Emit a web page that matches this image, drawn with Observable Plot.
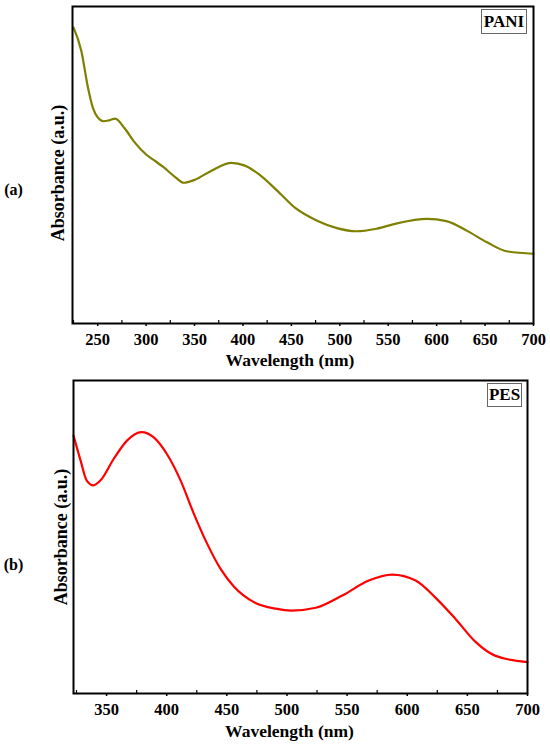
<!DOCTYPE html>
<html>
<head>
<meta charset="utf-8">
<script src="https://cdn.jsdelivr.net/npm/d3@7"></script>
<script src="https://cdn.jsdelivr.net/npm/@observablehq/plot@0.6"></script>
<style>
  html, body { margin: 0; padding: 0; background: #fff; }
  #wrap { position: relative; width: 550px; height: 744px; font-family: "Liberation Serif", "DejaVu Serif", serif; }
  #wrap svg { display: block; }
  .legend { position: absolute; border: 1px solid #666; background: #fff; font-weight: bold; font-size: 17px; color: #000; text-align: center; box-sizing: border-box; }
</style>
</head>
<body>
<div id="wrap"></div>
<script>
// Panel (a): PANI
const paniWavelength = [225, 233, 240, 245, 250, 256, 262, 268, 278, 288, 300, 310, 318, 330, 339, 350, 368, 388, 402, 416, 435, 455, 476, 497, 517, 538, 559, 590, 610, 631, 652, 672, 700];
const paniAbsorbance = [0.934, 0.861, 0.744, 0.681, 0.650, 0.638, 0.641, 0.646, 0.615, 0.572, 0.533, 0.511, 0.493, 0.462, 0.444, 0.453, 0.483, 0.507, 0.498, 0.472, 0.420, 0.362, 0.325, 0.301, 0.291, 0.299, 0.316, 0.330, 0.323, 0.293, 0.256, 0.228, 0.220];
const paniTicks = [250, 300, 350, 400, 450, 500, 550, 600, 650, 700];
const paniMinor = [225, 275, 325, 375, 425, 475, 525, 575, 625, 675];

// Panel (b): PES
const pesWavelength = [322.5, 328.4, 333.4, 339, 345, 356, 367, 379, 389, 400, 411.5, 422.6, 433.7, 444.8, 455.8, 472.5, 490.5, 504, 524, 546, 568, 587.5, 607, 623, 640, 657, 673, 700];
const pesAbsorbance = [0.824, 0.744, 0.681, 0.665, 0.681, 0.750, 0.808, 0.835, 0.819, 0.766, 0.681, 0.574, 0.478, 0.398, 0.342, 0.292, 0.271, 0.265, 0.274, 0.313, 0.361, 0.380, 0.361, 0.308, 0.239, 0.164, 0.121, 0.100];
const pesTicks = [350, 400, 450, 500, 550, 600, 650, 700];
const pesMinor = [325, 375, 425, 475, 525, 575, 625, 675];

const font = "Liberation Serif";

function panel(o) {
  const data = o.wl.map((w, i) => ({w, a: o.ab[i]}));
  return Plot.plot({
    width: 550,
    height: o.height,
    marginTop: o.marginTop, marginBottom: o.marginBottom, marginLeft: o.marginLeft, marginRight: o.marginRight,
    style: {fontFamily: font, background: "#fff", color: "#000"},
    x: {domain: o.xDomain},
    y: {domain: [0, 1]},
    marks: [
      Plot.line(data, {x: "w", y: "a", stroke: o.color, strokeWidth: 2.2, curve: "monotone-x"}),
      Plot.frame({stroke: "#000", strokeWidth: 2}),
      Plot.axisX({ticks: o.ticks, tickSize: 3, tickPadding: o.tickPadding, fontSize: 16.5, fontWeight: "bold", label: null, strokeWidth: 1.5}),
      Plot.axisX({ticks: o.minor.filter(d => d > o.xDomain[0]), tickSize: -3, tickFormat: () => "", label: null, strokeWidth: 1.2}),
      Plot.axisY({ticks: [], label: null}),
      Plot.text(["Wavelength (nm)"], {frameAnchor: "bottom", lineAnchor: "middle", dx: o.xLabelDx, dy: o.xLabelDy, fontSize: 17.5, fontWeight: "bold", fill: "#000"}),
      Plot.text(["Absorbance (a.u.)"], {frameAnchor: "left", textAnchor: "middle", lineAnchor: "middle", dx: o.yLabelDx, dy: o.yLabelDy, rotate: -90, fontSize: 18, fontWeight: "bold", fill: "#000"}),
      Plot.text([o.tag], {frameAnchor: "left", textAnchor: "middle", lineAnchor: "middle", dx: 13 - o.marginLeft, dy: o.tagDy, fontSize: 16, fontWeight: "bold", fill: "#000"})
    ]
  });
}

const wrap = document.getElementById("wrap");

wrap.appendChild(panel({
  wl: paniWavelength, ab: paniAbsorbance, ticks: paniTicks, minor: paniMinor,
  xDomain: [224, 700], color: "#7f7f00", tag: "(a)",
  height: 370, marginTop: 6, marginBottom: 47, marginLeft: 72, marginRight: 17,
  tickPadding: 6.5, xLabelDx: -13, xLabelDy: 37, yLabelDx: -14.5, yLabelDy: 8, tagDy: 24.5
}));

wrap.appendChild(panel({
  wl: pesWavelength, ab: pesAbsorbance, ticks: pesTicks, minor: pesMinor,
  xDomain: [322.5, 700], color: "#ff0000", tag: "(b)",
  height: 374, marginTop: 10, marginBottom: 51, marginLeft: 73, marginRight: 23,
  tickPadding: 7, xLabelDx: -11, xLabelDy: 37.5, yLabelDx: -12, yLabelDy: 0, tagDy: 27.5
}));

const l1 = document.createElement("div");
l1.className = "legend";
Object.assign(l1.style, {left: "481px", top: "9px", width: "46px", height: "25px", lineHeight: "23px"});
l1.textContent = "PANI";
wrap.appendChild(l1);

const l2 = document.createElement("div");
l2.className = "legend";
Object.assign(l2.style, {left: "487px", top: "383px", width: "35px", height: "24px", lineHeight: "22px"});
l2.textContent = "PES";
wrap.appendChild(l2);
</script>
</body>
</html>
